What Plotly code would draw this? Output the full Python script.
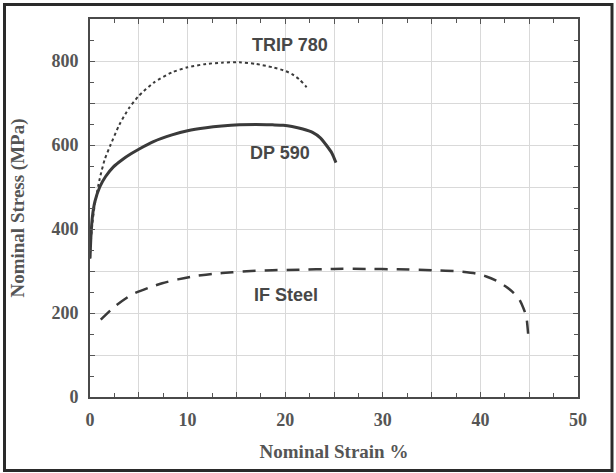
import plotly.graph_objects as go

# ---- data ----
trip_strain = [0.0, 0.1, 0.25, 0.5, 1.0, 1.5, 2.1, 3.0, 4.0, 5.0, 6.5, 8.4, 10.0, 11.9, 13.5, 15.3, 17.0, 18.7, 19.8, 20.7, 21.5, 22.1, 22.4]
trip_stress = [330, 375, 415, 460, 520, 565, 600, 648, 688, 717, 748, 773, 785, 793, 796, 797, 793, 785, 778, 769, 755, 740, 732]

dp_strain = [0.0, 0.1, 0.25, 0.5, 1.0, 1.6, 2.4, 3.3, 4.2, 5.0, 6.5, 8.4, 10.0, 11.9, 13.5, 15.3, 17.0, 18.7, 19.8, 20.7, 21.8, 22.8, 23.6, 24.2, 24.8, 25.2]
dp_stress = [330, 385, 430, 465, 500, 525, 548, 565, 579, 590, 608, 624, 634, 641, 645, 648, 649, 648, 647, 644, 638, 630, 617, 600, 580, 558]

if_strain = [1.1, 2.5, 4.3, 6.0, 7.4, 9.0, 10.5, 12.5, 14.6, 16.5, 18.7, 21.4, 24.9, 28.3, 31.5, 35.1, 37.8, 39.5, 40.6, 41.7, 42.6, 43.4, 44.0, 44.4, 44.7, 44.9]
if_stress = [184, 215, 244, 260, 271, 280, 287, 293, 297, 300, 302, 303, 305, 305, 304, 302, 299, 294, 287, 276, 263, 248, 232, 212, 192, 148]

x_tickvals = [0, 5, 10, 15, 20, 25, 30, 35, 40, 45, 50]
x_ticktext = ["0", "", "10", "", "20", "", "30", "", "40", "", "50"]
y_tickvals = [0, 100, 200, 300, 400, 500, 600, 700, 800, 900]
y_ticktext = ["0", "", "200", "", "400", "", "600", "", "800", ""]

labels = ["TRIP 780", "DP 590", "IF Steel"]
label_x = [20.5, 19.5, 20.1]
label_y = [839, 582, 244]

x_title = "Nominal Strain %"
y_title = "Nominal Stress (MPa)"

# ---- figure ----
curve_color = "#3a3a3a"
text_color = "#555555"
serif = "Liberation Serif, Times New Roman, serif"
sans = "Liberation Sans, Arial, sans-serif"

fig = go.Figure()
fig.add_trace(go.Scatter(x=trip_strain, y=trip_stress, mode="lines",
                         line=dict(color=curve_color, width=2, dash="dot", shape="spline", smoothing=0.6),
                         showlegend=False, hoverinfo="skip"))
fig.add_trace(go.Scatter(x=dp_strain, y=dp_stress, mode="lines",
                         line=dict(color=curve_color, width=3, shape="spline", smoothing=0.6),
                         showlegend=False, hoverinfo="skip"))
fig.add_trace(go.Scatter(x=if_strain, y=if_stress, mode="lines",
                         line=dict(color=curve_color, width=2.5, dash="13px,9px", shape="spline", smoothing=0.6),
                         showlegend=False, hoverinfo="skip"))

for t, xx, yy in zip(labels, label_x, label_y):
    fig.add_annotation(x=xx, y=yy, text=t, showarrow=False,
                       font=dict(family=sans, size=18, color="#474747", weight="bold"))

axis_common = dict(
    showline=True, linecolor="#4a4a4a", linewidth=2, mirror="ticks",
    ticks="inside", ticklen=5, tickwidth=1.2, tickcolor="#555555",
    showgrid=True, gridcolor="#d9d9d9", gridwidth=1,
    zeroline=False, automargin=False,
    tickfont=dict(family=serif, size=18, color=text_color, weight="bold"),
    tickmode="array",
)

fig.update_xaxes(**axis_common, range=[0, 50], tickvals=x_tickvals, ticktext=x_ticktext,
                 minor=dict(dtick=2.5, ticks="inside", ticklen=4, tickcolor="#555555", showgrid=False),
                 title=dict(text=x_title, font=dict(family=serif, size=19, color=text_color, weight="bold"),
                            standoff=16),
                 ticklabelstandoff=5)
fig.update_yaxes(**axis_common, range=[0, 900], tickvals=y_tickvals, ticktext=y_ticktext,
                 minor=dict(dtick=50, ticks="inside", ticklen=4, tickcolor="#555555", showgrid=False),
                 title=dict(text=y_title, font=dict(family=serif, size=19, color=text_color, weight="bold"),
                            standoff=22),
                 ticklabelstandoff=6)

# outer frame around the whole picture
pw, ph = 578 - 90, 397 - 19
fig.add_shape(type="rect", xref="paper", yref="paper",
              x0=(4.5 - 90) / pw, x1=(612 - 90) / pw,
              y0=(397 - 470.5) / ph, y1=(397 - 4.5) / ph,
              line=dict(color="#2a2a2a", width=3), fillcolor="rgba(0,0,0,0)", layer="below")

fig.update_layout(
    width=616, height=473,
    margin=dict(l=90, r=616 - 578, t=19, b=473 - 397, autoexpand=False),
    plot_bgcolor="white", paper_bgcolor="white",
)

fig.write_html("out.html", config={"displayModeBar": False},
               post_script="document.body.style.margin='0';document.body.style.overflow='hidden';")
